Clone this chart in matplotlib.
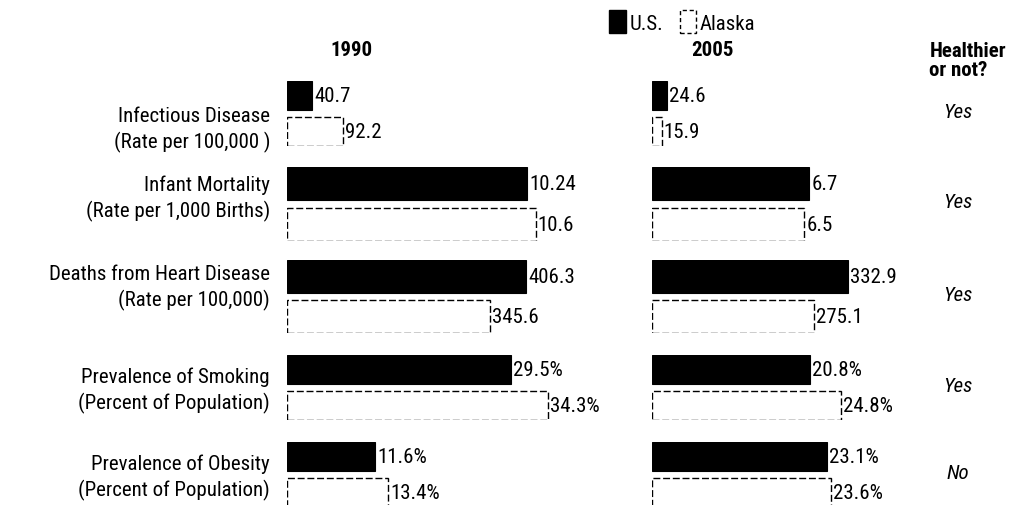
import matplotlib
matplotlib.use("Agg")
import matplotlib.pyplot as plt
from matplotlib import font_manager
from matplotlib.patches import Patch

# data
categories = ["Infectious Disease\n(Rate per 100,000 )",
              "Infant Mortality\n(Rate per 1,000 Births)",
              "Deaths from Heart Disease\n(Rate per 100,000)",
              "Prevalence of Smoking\n(Percent of Population)",
              "Prevalence of Obesity\n(Percent of Population)"]
years = ["1990", "2005"]
us_1990 = [40.7, 10.24, 406.3, 29.5, 11.6]
ak_1990 = [92.2, 10.6, 345.6, 34.3, 13.4]
us_2005 = [24.6, 6.7, 332.9, 20.8, 23.1]
ak_2005 = [15.9, 6.5, 275.1, 24.8, 23.6]
suffix = ["", "", "", "%", "%"]
healthier = ["Yes", "Yes", "Yes", "Yes", "No"]
# each row has its own scale in the original
row_xmax = [557, 14.5, 578, 44.7, 44.9]

# want a narrow font like the original, fall back to a smaller regular one
names = {f.name for f in font_manager.fontManager.ttflist}
fam = None
for cand in ["Liberation Sans Narrow", "Roboto Condensed", "Arial Narrow", "Open Sans Condensed"]:
    if cand in names:
        fam = cand
        break
fsize = 15
if fam is None:
    fam = "Roboto" if "Roboto" in names else "Liberation Sans"
    fsize = 13.5
plt.rcParams["font.family"] = [fam, "DejaVu Sans"]
plt.rcParams["font.size"] = fsize

W, H = 1015, 506
fig = plt.figure(figsize=(W / 100, H / 100), dpi=100)

panel_left = [287, 652]
panel_w = 340
row_top = [82, 168, 261, 356, 443]
row_bot = [147, 242, 334, 421, 508]
label_y = [130, 199, 288, 391, 478]
hd = 0.82

data = [(us_1990, ak_1990), (us_2005, ak_2005)]
for p in range(2):
    us, ak = data[p]
    for r in range(5):
        ax = fig.add_axes([panel_left[p] / W, 1 - row_bot[r] / H,
                           panel_w / W, (row_bot[r] - row_top[r]) / H])
        ax.barh([1], [us[r]], height=hd, color="black", edgecolor="black", lw=0.8)
        ax.barh([0], [ak[r]], height=hd, color="white", edgecolor="black",
                lw=1.0, linestyle=(0, (5, 2)))
        for y, v in [(1, us[r]), (0, ak[r])]:
            ax.annotate(f"{v:g}{suffix[r]}", (v, y), xytext=(1.5, 0),
                        textcoords="offset points", va="center", ha="left")
        ax.set_xlim(0, row_xmax[r])
        ax.set_ylim(-hd / 2, 1 + hd / 2)
        ax.axis("off")

for r in range(5):
    fig.text(270 / W, 1 - label_y[r] / H, categories[r], ha="right", va="center",
             linespacing=1.35)
    yc = (row_top[r] + row_bot[r]) / 2 - 2
    fig.text(958 / W, 1 - yc / H, healthier[r], ha="center", va="center",
             style="italic")

fig.text(352 / W, 1 - 51 / H, years[0], ha="center", va="center", weight="bold")
fig.text(712 / W, 1 - 51 / H, years[1], ha="center", va="center", weight="bold")
fig.text(1006 / W, 1 - 61 / H, "Healthier\nor not?", ha="right", va="center",
         multialignment="left", weight="bold", linespacing=1.0)

handles = [Patch(facecolor="black", edgecolor="black"),
           Patch(facecolor="white", edgecolor="black", linestyle=(0, (3, 2)))]
fig.legend(handles, ["U.S.", "Alaska"], ncol=2, loc="upper left",
           bbox_to_anchor=(598 / W, 1.0), frameon=False, handlelength=0.8,
           handleheight=1.3, handletextpad=0.15, columnspacing=0.8,
           borderaxespad=0.15)

fig.savefig("out.png", dpi=100)
